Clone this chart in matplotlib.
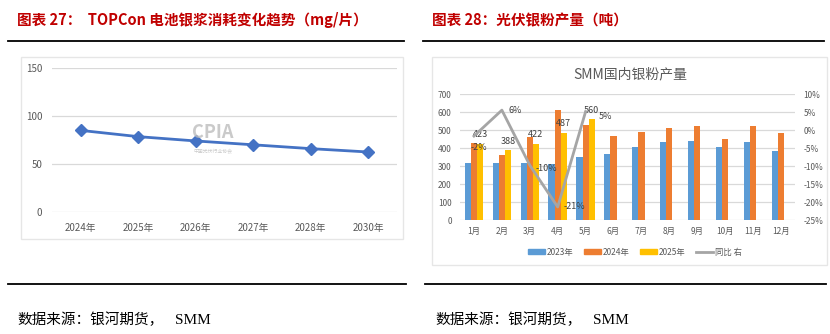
import matplotlib
matplotlib.use("Agg")
import matplotlib.pyplot as plt
from matplotlib.patches import Rectangle, Patch
from matplotlib.lines import Line2D

plt.rcParams['font.family'] = ['Noto Sans CJK SC', 'DejaVu Sans']

# left chart: TOPCon silver paste consumption (mg/wafer)
years = ['2024年', '2025年', '2026年', '2027年', '2028年', '2030年']
paste = [85, 78.5, 74, 70, 66, 62.5]

# right chart: domestic silver powder output (t)
months = ['1月', '2月', '3月', '4月', '5月', '6月', '7月', '8月', '9月', '10月', '11月', '12月']
out_2023 = [316, 316, 321, 312, 349, 368, 407, 434, 442, 408, 434, 384]
out_2024 = [431, 364, 464, 615, 529, 470, 488, 512, 524, 451, 524, 486]
out_2025 = [423, 388, 422, 487, 560]
yoy = [-1.6, 5.6, -9.7, -21.3, 5.2]  # %
yoy_labels = ['-2%', '6%', '-10%', '-21%', '5%']

RED = '#C00000'
GRID = '#D9D9D9'
TXT = '#595959'
LAB = '#404040'
W, H = 830, 334

fig = plt.figure(figsize=(W / 100, H / 100), dpi=100)


def px(x0, y0, x1, y1):
    # pixel box (top-left origin) -> figure rect
    return [x0 / W, 1 - y1 / H, (x1 - x0) / W, (y1 - y0) / H]


def hline(x0, x1, y):
    fig.add_artist(Line2D([x0 / W, x1 / W], [1 - y / H, 1 - y / H], color='black', lw=1.3))


# headers, rules and source notes
fig.text(17 / W, 1 - 20 / H, '图表 27：  TOPCon 电池银浆消耗变化趋势（mg/片）', color=RED,
         fontsize=10.5, fontweight='bold', va='center')
fig.text(432 / W, 1 - 20 / H, '图表 28：光伏银粉产量（吨）', color=RED,
         fontsize=10.5, fontweight='bold', va='center')
hline(8, 404, 41)
hline(423, 824, 41)
hline(8, 406, 284)
hline(425, 826, 284)
for x0 in [17, 435]:
    fig.text(x0 / W, 1 - 320 / H, '数据来源：银河期货，', fontsize=10.5, va='center')
    fig.text((x0 + 158) / W, 1 - 320 / H, 'SMM', fontsize=11, va='center',
             family='Liberation Serif')

# chart frames
for r in [px(21, 57, 403, 239), px(432, 57, 827, 265)]:
    fig.add_artist(Rectangle((r[0], r[1]), r[2], r[3], transform=fig.transFigure,
                             fill=False, edgecolor='#E6E6E6', lw=1))

# ---- left chart
ax1 = fig.add_axes(px(52, 68, 397, 212))
ax1.plot(range(len(years)), paste, color='#4472C4', lw=2, marker='D', ms=6, zorder=3)
ax1.set_xlim(-0.5, len(years) - 0.5)
ax1.set_ylim(0, 150)
ax1.set_yticks([0, 50, 100, 150])
ax1.set_xticks(range(len(years)))
ax1.set_xticklabels(years)
ax1.grid(axis='y', color=GRID, lw=0.9)
ax1.set_axisbelow(True)
for s in ax1.spines.values():
    s.set_visible(False)
ax1.tick_params(length=0, labelsize=7, colors=TXT, pad=8)
ax1.tick_params(axis='y', pad=7)
# CPIA watermark
fig.text(213 / W, 1 - 133 / H, 'CPIA', color='#BDBDBD', fontsize=13, fontweight='bold',
         ha='center', va='center', alpha=0.8)
fig.text(213 / W, 1 - 151 / H, '中国光伏行业协会', color='#BDBDBD', fontsize=3.5,
         ha='center', va='center', alpha=0.8)

# ---- right chart
ax2 = fig.add_axes(px(460, 94.3, 795, 220.3))
bw = 0.22
x = list(range(len(months)))
ax2.bar([i - bw for i in x], out_2023, bw, color='#5B9BD5', zorder=2)
ax2.bar(x, out_2024, bw, color='#ED7D31', zorder=2)
ax2.bar([i + bw for i in range(len(out_2025))], out_2025, bw, color='#FFC000', zorder=2)
for i, v in enumerate(out_2025):
    ax2.text(i + bw, v + 52, str(v), ha='center', va='center', fontsize=6.5, color=LAB, zorder=5)
ax2.set_xlim(-0.5, len(months) - 0.5)
ax2.set_ylim(0, 700)
ax2.set_yticks(range(0, 701, 100))
ax2.set_xticks(x)
ax2.set_xticklabels(months)
ax2.grid(axis='y', color=GRID, lw=0.9)
ax2.set_axisbelow(True)
for s in ax2.spines.values():
    s.set_visible(False)
ax2.tick_params(length=0, labelsize=6, colors=TXT, pad=5)
ax2.tick_params(axis='y', pad=6)

ax3 = ax2.twinx()
ax3.plot(range(len(yoy)), yoy, color='#A5A5A5', lw=2, zorder=4)
# label offsets (category units, percentage points)
offsets = [(0.18, -3.3), (0.47, 0), (0.61, -0.8), (0.61, 0), (0.72, -1.3)]
for i, (v, lab) in enumerate(zip(yoy, yoy_labels)):
    dx, dy = offsets[i]
    ax3.text(i + dx, v + dy, lab, ha='center', va='center', fontsize=6.5, color=LAB, zorder=5)
ax3.set_ylim(-25, 10)
ticks = list(range(-25, 11, 5))
ax3.set_yticks(ticks)
ax3.set_yticklabels([f'{t}%' for t in ticks])
for s in ax3.spines.values():
    s.set_visible(False)
ax3.tick_params(length=0, labelsize=6, colors=TXT, pad=6)

fig.text(630 / W, 1 - 74 / H, 'SMM国内银粉产量', color=TXT, fontsize=10, ha='center', va='center')

handles = [Patch(color='#5B9BD5'), Patch(color='#ED7D31'), Patch(color='#FFC000'),
           Line2D([], [], color='#A5A5A5', lw=2)]
fig.legend(handles, ['2023年', '2024年', '2025年', '同比 右'], loc='center',
           bbox_to_anchor=(635 / W, 1 - 252 / H), ncol=4, frameon=False, fontsize=6,
           handlelength=2.0, handleheight=0.6, handletextpad=0.3, columnspacing=1.2,
           labelcolor=TXT)

fig.savefig('out.png', dpi=100)
